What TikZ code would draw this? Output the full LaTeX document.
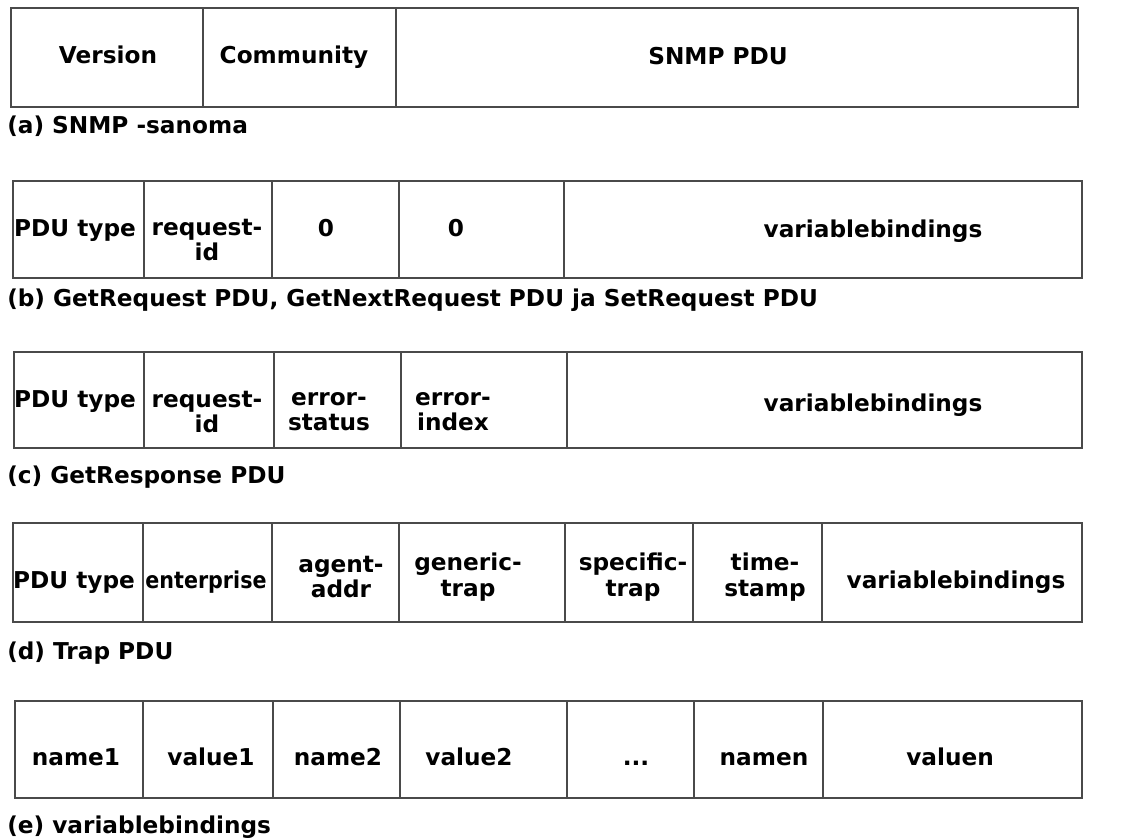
\documentclass[tikz,border=0pt]{standalone}
\usepackage{fontspec}
\setmainfont{DejaVu Sans}
\usetikzlibrary{positioning}
\definecolor{framegray}{HTML}{4A4A4A}

\begin{document}
\begin{tikzpicture}[x=0.025cm,y=-0.025cm,
box/.style={draw=framegray,line width=1pt},
field/.style={font=\bfseries\fontsize{16.5}{18}\selectfont,inner sep=0pt,anchor=base},
stack/.style={font=\bfseries\fontsize{16.5}{18}\selectfont,align=center,inner sep=0pt},
caption/.style={font=\bfseries\fontsize{16.5}{18}\selectfont,anchor=base west,inner sep=0pt}]
\useasboundingbox (0,0) rectangle (1124,839);

% (a) message
\draw[box] (11,8) rectangle (1078,107) (203,8) -- (203,107) (396,8) -- (396,107);
\node[field] (version) at (108,64) {Version};
\node[field] (community) at (294,64) {Community};
\node[field] (snmppdu) at (718,65) {SNMP PDU};
\node[caption] (capa) at (7,134) {(a) SNMP -sanoma};

% (b) get/set requests
\draw[box] (13,181) rectangle (1082,278)
  (144,181) -- (144,278) (272,181) -- (272,278)
  (399,181) -- (399,278) (564,181) -- (564,278);
\node[field] (btype) at (75,237) {PDU type};
\node[stack] (bid) at (207,240) {request-\\id};
\node[field] (bstatus) at (326,237) {0};
\node[field] (bindex) at (456,237) {0};
\node[field] (bbind) at (873,238) {variablebindings};
\node[caption] (capb) at (7,307) {(b) GetRequest PDU, GetNextRequest PDU ja SetRequest PDU};

% (c) response
\draw[box] (14,352) rectangle (1082,448)
  (144,352) -- (144,448) (274,352) -- (274,448)
  (401,352) -- (401,448) (567,352) -- (567,448);
\node[field] (ctype) at (75,408) {PDU type};
\node[stack] (cid) at (207,412) {request-\\id};
\node[stack] (cstatus) at (329,412) {error-\\status};
\node[stack] (cindex) at (453,412) {error-\\index};
\node[field] (cbind) at (873,412) {variablebindings};
\node[caption] (capc) at (7,483) {(c) GetResponse PDU};

% (d) trap
\draw[box] (13,523) rectangle (1082,622)
  (143,523) -- (143,622) (272,523) -- (272,622)
  (399,523) -- (399,622) (565,523) -- (565,622)
  (693,523) -- (693,622) (822,523) -- (822,622);
\node[field] (dtype) at (74,588) {PDU type};
\node[field] (dent) at (206,588) {\scalebox{0.89}[1]{enterprise}};
\node[stack] (daddr) at (341,577) {agent-\\addr};
\node[stack] (dgeneric) at (468,577) {generic-\\trap};
\node[stack] (dspecific) at (633,577) {specific-\\trap};
\node[stack] (dstamp) at (765,577) {time-\\stamp};
\node[field] (dbind) at (956,588) {variablebindings};
\node[caption] (capd) at (7,659) {(d) Trap PDU};

% (e) variable bindings
\draw[box] (15,701) rectangle (1082,798)
  (143,701) -- (143,798) (273,701) -- (273,798)
  (400,701) -- (400,798) (567,701) -- (567,798)
  (694,701) -- (694,798) (823,701) -- (823,798);
\node[field] (name1) at (76,765) {name1};
\node[field] (value1) at (211,765) {value1};
\node[field] (name2) at (338,765) {name2};
\node[field] (value2) at (469,765) {value2};
\node[field] (dots) at (636,765) {...};
\node[field] (namen) at (764,765) {namen};
\node[field] (valuen) at (950,765) {valuen};
\node[caption] (cape) at (7,833) {(e) variablebindings};
\end{tikzpicture}
\end{document}
